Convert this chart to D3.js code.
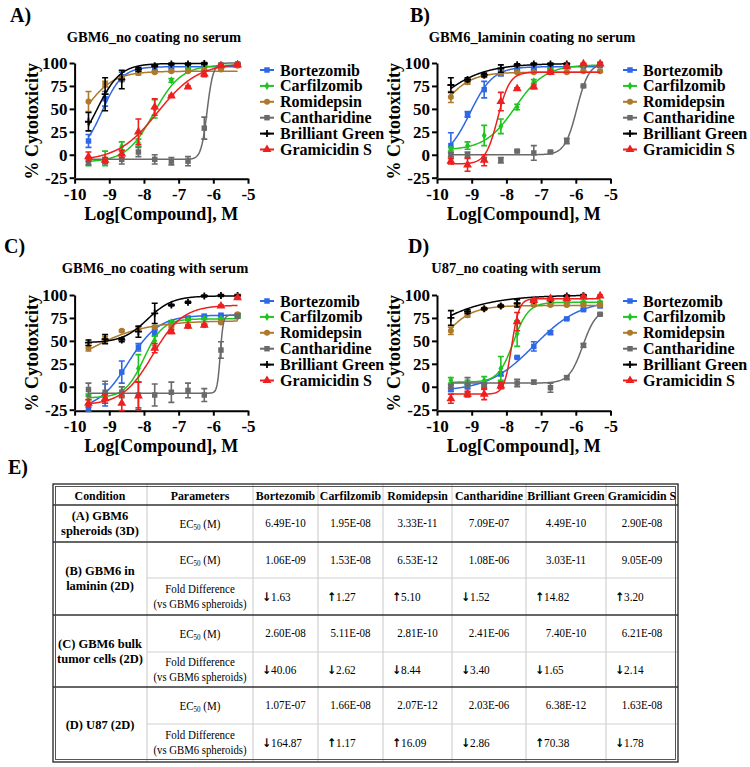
<!DOCTYPE html>
<html><head><meta charset="utf-8">
<script src="https://cdn.jsdelivr.net/npm/d3@7"></script>
<style>
body{margin:0;background:#fff}
svg{display:block}
text{font-family:"Liberation Serif","Times New Roman",serif;fill:#000}
</style>
</head><body>
<svg id="c" width="750" height="767"></svg>
<script>
// ---------------- DATA ----------------
const compounds = ["Bortezomib","Carfilzomib","Romidepsin","Cantharidine","Brilliant Green","Gramicidin S"];
const logConc = [-9.60,-9.12,-8.64,-8.16,-7.69,-7.21,-6.73,-6.26,-5.78,-5.30];
const panelLabels = ["A)","B)","C)","D)"];
const panelTitles = ["GBM6_no coating no serum","GBM6_laminin coating no serum","GBM6_no coating with serum","U87_no coating with serum"];
const xTicks = [-10,-9,-8,-7,-6,-5];
const yTicks = [-25,0,25,50,75,100];

// Panel A (mean % cytotoxicity, SEM, fit [bottom, top, logEC50, hill])
const meanA = [
  [15,61,85,92,94,95,96,97,97,98],
  [-8,-4,9,13,50,81,94,98,98,99],
  [58,77,84,89,90,91,91,92,93,97],
  [-7,-7,-5,3,-5,-7,-7,29,98,99],
  [36,66,82,93,97,99,99,99.5,null,null],
  [-2,-6,1,25,52,64,74,88,97,98]
];
const errA = [
  [7,8,5,2,2,1,1,1,1,1],
  [4,8,5,4,10,2,1,1,1,1],
  [11,3,2,2,1,1,1,1,1,1],
  [4,3,5,5,5,4,5,12,1,1],
  [10,18,10,2,1,1,1,1,0,0],
  [5,3,4,14,9,1,1,3,1,1]
];
const fitA = [[0,96,-9.2,1.5],[-8,98,-7.72,1.1],[0,91,-9.78,1.0],[-5,100,-6.18,5],[0,99.5,-9.35,1.3],[-7,100,-7.6,0.75]];

// Panel B
const meanB = [
  [10,44,71,89,93,93.5,95,96,96.5,97],
  [6,10,21,31,52,80,93,96,98,98.5],
  [63,79,86,89,90,90,90,90,91,91],
  [0,0,-5,-6,4,2,3,15,75,99],
  [76,82,87,94,98,99,99,99,null,null],
  [-7,-11,-6,58,72,74,90,96,99,99]
];
const errB = [
  [14,3,9,3,1,1,1,1,1,1],
  [2,4,11,8,3,2,1,1,1,1],
  [6,2,1,1,1,1,1,1,1,1],
  [2,3,2,3,1,8,1,3,1,1],
  [8,2,2,4,1,1,1,1,0,0],
  [3,7,6,10,1,2,2,1,1,1]
];
const fitB = [[-5,96,-9.05,1.3],[5,98,-7.75,1.0],[0,90,-10.0,1.0],[0,100,-5.97,2.5],[0,99.5,-10.3,0.6],[-10,90,-8.25,2.5]];

// Panel C
const meanC = [
  [-23,-9,16,43,59,70,75,77,78,78],
  [-11,-11,-5,20,50,70,73,74,74,76],
  [42,52,61,64,65,66,66,67,70,79],
  [-3,-6,-6,-9,-9,-6,-4,-9,40,77],
  [48,52,51,60,80,89,92,99,99.5,99.5],
  [-18,-13,-18,-10,42,60,66,67,88,97]
];
const errC = [
  [4,12,12,4,3,1,1,1,1,1],
  [3,4,5,15,5,2,1,1,1,1],
  [3,3,1,2,1,2,1,1,1,1],
  [7,12,6,14,12,11,8,7,9,2],
  [3,5,2,6,11,1,1,1,1,1],
  [4,5,8,15,5,2,1,1,1,1]
];
const fitC = [[-25,78,-8.45,1.0],[-12,74,-8.0,1.6],[0,72,-9.8,0.5],[-7,78,-5.8,10],[48,99,-7.9,1.2],[-20,89,-7.75,1.0]];

// Panel D
const meanD = [
  [-3,0,2,14,32,44,59,74,84,88],
  [7,5,7,20,58,91,92,92,92,92],
  [61,78,85,88,89,89,89,89,89,89],
  [0,2,0,3,4,5,-1,10,45,79],
  [75,82,85,88,91,94,95,99,99.5,null],
  [-13,-8,-8,1,71,94,96,96,98,99]
];
const errD = [
  [2,2,2,2,1,5,2,1,1,1],
  [3,2,4,13,14,1,1,1,1,1],
  [4,2,1,1,1,1,1,1,1,1],
  [2,8,3,2,4,2,5,2,2,1],
  [8,2,1,1,4,1,1,1,1,0],
  [5,3,6,3,10,1,1,1,1,1]
];
const fitD = [[-5,95,-7.2,0.65],[5,92,-7.8,2.0],[0,88.5,-10.0,1.0],[4,85,-5.8,2.2],[0,100,-10.8,0.45],[-8,96,-7.85,4]];

// Table
const tableHeaders = ["Condition","Parameters","Bortezomib","Carfilzomib","Romidepsin","Cantharidine","Brilliant Green","Gramicidin S"];
const conditions = [["(A) GBM6","spheroids (3D)"],["(B) GBM6 in","laminin (2D)"],["(C) GBM6 bulk","tumor cells (2D)"],["(D) U87 (2D)"]];
const ec50 = [
  ["6.49E-10","1.95E-08","3.33E-11","7.09E-07","4.49E-10","2.90E-08"],
  ["1.06E-09","1.53E-08","6.53E-12","1.08E-06","3.03E-11","9.05E-09"],
  ["2.60E-08","5.11E-08","2.81E-10","2.41E-06","7.40E-10","6.21E-08"],
  ["1.07E-07","1.66E-08","2.07E-12","2.03E-06","6.38E-12","1.63E-08"]
];
const foldDir = [
  null,
  ["↓","↑","↑","↓","↑","↑"],
  ["↓","↓","↓","↓","↓","↓"],
  ["↓","↑","↑","↓","↑","↓"]
];
const foldVal = [
  null,
  ["1.63","1.27","5.10","1.52","14.82","3.20"],
  ["40.06","2.62","8.44","3.40","1.65","2.14"],
  ["164.87","1.17","16.09","2.86","70.38","1.78"]
];

// ---------------- STYLE / LAYOUT ----------------
const colors = ["#2f68e6","#1fc41f","#ad7a2c","#6a6a6a","#000000","#ee1f1f"];
const shapes = ["square","diamond","circle","square","plus","triangle"];
const panels = [
  {mean:meanA, err:errA, fit:fitA, left:74.6, right:248, top:63, bottom:177.7, lx:10, ly:22, tx:154, ty:42, legX:267, legY:70},
  {mean:meanB, err:errB, fit:fitB, left:437, right:610.5, top:63, bottom:177.7, lx:410, ly:22, tx:532, ty:42, legX:630, legY:70},
  {mean:meanC, err:errC, fit:fitC, left:74.6, right:248, top:295, bottom:409.7, lx:4, ly:253, tx:155, ty:273, legX:267, legY:301},
  {mean:meanD, err:errD, fit:fitD, left:437, right:610.5, top:295, bottom:409.7, lx:408, ly:253, tx:516, ty:273, legX:630, legY:301}
];

const svg = d3.select("#c");

function drawMarker(g, shape, color, cx, cy, scale) {
  const s = scale || 1;
  if (shape === "plus") {
    g.append("path").attr("d", `M${cx-3.5*s},${cy}H${cx+3.5*s}M${cx},${cy-3.5*s}V${cy+3.5*s}`)
      .attr("stroke", color).attr("stroke-width", 1.8).attr("fill","none");
    return;
  }
  const map = {square:[d3.symbolSquare,30], circle:[d3.symbolCircle,28], triangle:[d3.symbolTriangle,34], diamond:[d3.symbolDiamond,20]};
  const [t, size] = map[shape];
  g.append("path").attr("d", d3.symbol().type(t).size(size*s*s)())
    .attr("transform", `translate(${cx},${cy})`).attr("fill", color);
}

panels.forEach((p, pi) => {
  const g = svg.append("g");
  const x = d3.scaleLinear().domain([-10,-5]).range([p.left, p.right]);
  const y = d3.scaleLinear().domain([-25,100]).range([p.bottom, p.top]);

  g.append("text").attr("x", p.lx).attr("y", p.ly).attr("font-size", 20).attr("font-weight","bold").text(panelLabels[pi]);
  g.append("text").attr("x", p.tx).attr("y", p.ty).attr("text-anchor","middle").attr("font-size",14.5).attr("font-weight","bold").text(panelTitles[pi]);

  const yAxis = d3.axisLeft(y).tickValues(yTicks).tickSize(5).tickSizeOuter(0).tickPadding(2);
  const xAxis = d3.axisBottom(x).tickValues(xTicks).tickSize(5).tickSizeOuter(0).tickPadding(4).tickFormat(d3.format("d"));
  const ya = g.append("g").attr("transform", `translate(${p.left},0)`).call(yAxis);
  const xa = g.append("g").attr("transform", `translate(0,${p.bottom+1})`).call(xAxis);
  [ya, xa].forEach(a => {
    a.select(".domain").attr("stroke","#000").attr("stroke-width",2);
    a.selectAll(".tick line").attr("stroke","#000").attr("stroke-width",2);
    a.selectAll(".tick text").attr("font-family","Liberation Serif, serif").attr("font-size",17).attr("font-weight","bold").attr("fill","#000");
  });
  xa.selectAll(".tick text").text(d => d < 0 ? "-" + Math.abs(d) : d);
  ya.selectAll(".tick text").text(d => d < 0 ? "-" + Math.abs(d) : d);

  g.append("text").attr("transform", `translate(${p.left-43},${(p.top+p.bottom)/2+1}) rotate(-90)`)
    .attr("text-anchor","middle").attr("dominant-baseline","central").attr("font-size",18).attr("font-weight","bold").text("% Cytotoxicity");
  g.append("text").attr("x",(p.left+p.right)/2).attr("y",p.bottom+42).attr("text-anchor","middle")
    .attr("font-size",18).attr("font-weight","bold").text("Log[Compound], M");

  compounds.forEach((c, si) => {
    const m = p.mean[si], e = p.err[si], f = p.fit[si];
    const xs = logConc.filter((_, i) => m[i] !== null);
    const xmin = d3.min(xs), xmax = d3.max(xs);
    const samples = d3.range(0, 241).map(i => xmin + (xmax - xmin) * i / 240);
    const fn = v => f[0] + (f[1] - f[0]) / (1 + Math.pow(10, (f[2] - v) * f[3]));
    g.append("path").datum(samples)
      .attr("d", d3.line().x(v => x(v)).y(v => y(fn(v))))
      .attr("fill","none").attr("stroke", colors[si]).attr("stroke-width",1.5);
    const sg = g.append("g");
    logConc.forEach((lc, i) => {
      if (m[i] === null) return;
      const cx = x(lc), cy = y(m[i]);
      if (e[i] > 0) {
        const y1 = y(m[i] - e[i]), y2 = y(m[i] + e[i]);
        sg.append("path").attr("d", `M${cx},${y1}V${y2}M${cx-3},${y1}H${cx+3}M${cx-3},${y2}H${cx+3}`)
          .attr("stroke", colors[si]).attr("stroke-width",1.6).attr("fill","none");
      }
      drawMarker(sg, shapes[si], colors[si], cx, cy, 1);
    });
  });

  compounds.forEach((c, si) => {
    const ly = p.legY + si * 15.9;
    g.append("line").attr("x1", p.legX-7).attr("x2", p.legX+7).attr("y1", ly).attr("y2", ly)
      .attr("stroke", colors[si]).attr("stroke-width", 2);
    drawMarker(g, shapes[si], colors[si], p.legX, ly, 1);
    g.append("text").attr("x", p.legX+13).attr("y", ly).attr("dominant-baseline","central")
      .attr("font-size",16).attr("font-weight","bold").text(c);
  });
});

// ---------------- TABLE ----------------
svg.append("text").attr("x",8).attr("y",474).attr("font-size",20).attr("font-weight","bold").text("E)");

const colX = [53,147,253,318,383,452,526,606,678];
const tTop = 484, tHead = 505, tBot = 762;
const groupRows = [[505,542],[542,615],[615,687],[687,762]];
const splitRows = [null,578,652,724];
const tg = svg.append("g");
const fs = 12.5;

function tt(x, y, str, opt) {
  const o = Object.assign({bold:false, anchor:"middle", sx:0.88, size:fs}, opt || {});
  return tg.append("text").attr("transform", `translate(${x},${y}) scale(${o.sx},1)`)
    .attr("text-anchor", o.anchor).attr("dominant-baseline","central").attr("font-size", o.size)
    .attr("font-weight", o.bold ? "bold" : "normal").text(str);
}

colX.slice(1,-1).forEach(cx => {
  tg.append("line").attr("x1",cx).attr("x2",cx).attr("y1",tTop).attr("y2",tBot).attr("stroke","#c8c8c8").attr("stroke-width",1);
});
splitRows.forEach(sy => { if (sy) tg.append("line").attr("x1",colX[1]).attr("x2",colX[8]).attr("y1",sy).attr("y2",sy).attr("stroke","#d0d0d0").attr("stroke-width",1); });
[505,542,615,687].forEach(ry => {
  tg.append("line").attr("x1",colX[0]).attr("x2",colX[8]).attr("y1",ry).attr("y2",ry).attr("stroke","#333").attr("stroke-width",1.4);
});
tg.append("rect").attr("x",colX[0]).attr("y",tTop).attr("width",colX[8]-colX[0]).attr("height",tBot-tTop)
  .attr("fill","none").attr("stroke","#222").attr("stroke-width",1.3);
tg.append("rect").attr("x",colX[0]+2.5).attr("y",tTop+2.5).attr("width",colX[8]-colX[0]-5).attr("height",tBot-tTop-5)
  .attr("fill","none").attr("stroke","#444").attr("stroke-width",0.9);

tableHeaders.forEach((h, i) => {
  tt((colX[i]+colX[i+1])/2, (tTop+tHead)/2+1, h, {bold:true, sx:0.95});
});

function ec50Label(cx, cy) {
  const t = tg.append("text").attr("transform", `translate(${cx},${cy}) scale(0.88,1)`).attr("text-anchor","middle")
    .attr("dominant-baseline","central").attr("font-size",fs);
  t.append("tspan").text("EC");
  t.append("tspan").attr("font-size",8).attr("dy",3).text("50");
  t.append("tspan").attr("dy",-3).text(" (M)");
}

conditions.forEach((cond, r) => {
  const [ya, yb] = groupRows[r];
  const cy = (ya + yb) / 2;
  cond.forEach((line, k) => {
    const off = cond.length === 1 ? 0 : (k === 0 ? -7.5 : 7.5);
    tt((colX[0]+colX[1])/2, cy+off, line, {bold:true, sx:1});
  });
  const ecY = splitRows[r] ? (ya + splitRows[r]) / 2 : cy;
  ec50Label((colX[1]+colX[2])/2, ecY);
  ec50[r].forEach((v, j) => tt((colX[j+2]+colX[j+3])/2, ecY, v));
  if (splitRows[r]) {
    const fy = (splitRows[r] + yb) / 2;
    tt((colX[1]+colX[2])/2, fy-7.5, "Fold Difference");
    tt((colX[1]+colX[2])/2, fy+7.5, "(vs GBM6 spheroids)", {sx:0.86});
    foldVal[r].forEach((v, j) => {
      const t = tg.append("text").attr("transform", `translate(${colX[j+2]+9},${fy}) scale(0.9,1)`)
        .attr("dominant-baseline","central").attr("font-size",fs);
      t.append("tspan").attr("font-family","DejaVu Sans, sans-serif").attr("font-weight","bold").attr("font-size",12).text(foldDir[r][j]);
      t.append("tspan").text(v);
    });
  }
});
</script>
</body></html>
